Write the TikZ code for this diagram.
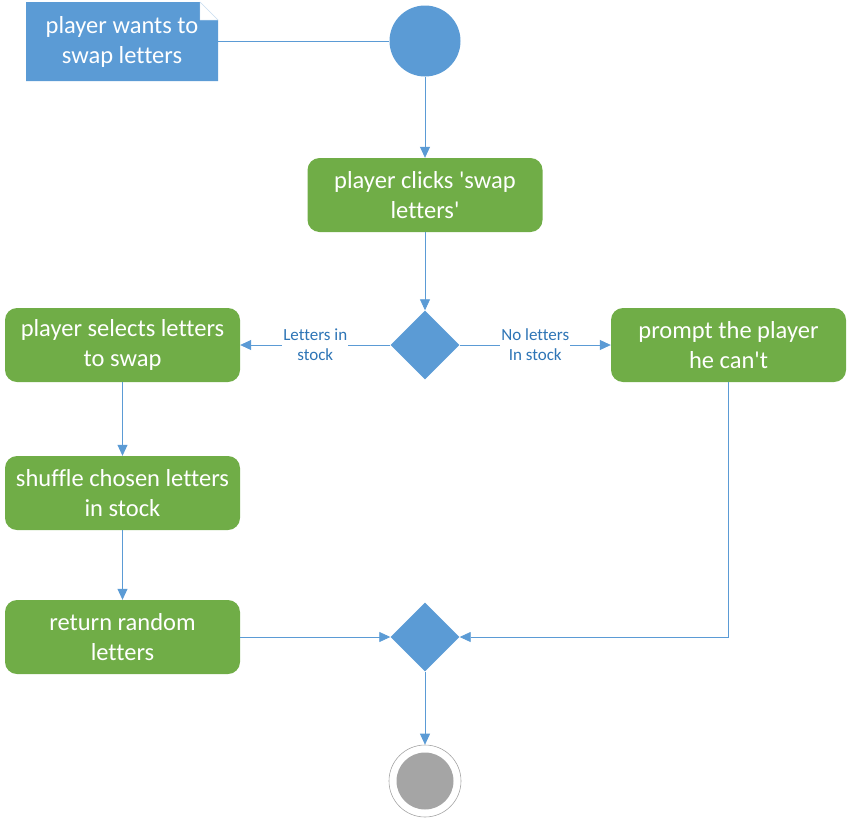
\documentclass[tikz,border=0pt]{standalone}
\usepackage{fontspec}
\setmainfont{Carlito}[Ligatures={TeX,CommonOff}]
\usetikzlibrary{arrows.meta,shapes.geometric}
\definecolor{ublue}{HTML}{5B9BD5}
\definecolor{ugreen}{HTML}{70AD47}
\definecolor{ulabel}{HTML}{2E75B6}
\definecolor{ugray}{HTML}{A5A5A5}
\tikzset{
  act/.style={rounded corners=12pt, fill=ugreen, draw=none, minimum width=235pt, minimum height=74pt,
    text=white, font=\fontsize{24.5}{30}\selectfont, align=center, inner sep=0pt},
  dec/.style={diamond, fill=ublue, draw=none, minimum width=69pt, minimum height=69pt, inner sep=0pt},
  conn/.style={draw=ublue, line width=0.8pt},
  arr/.style={conn, -{Triangle[length=11pt,width=10pt]}},
  lbl/.style={fill=white, text=ulabel, font=\fontsize{17}{20}\selectfont, align=center, inner sep=1pt}
}
\begin{document}
\begin{tikzpicture}[x=1pt,y=-1pt]
\useasboundingbox (0,0) rectangle (848,819);
% note
\fill[ublue] (26,2) -- (200,2) -- (218,20) -- (218,81) -- (26,81) -- cycle;
\draw[fill=white, draw=ublue!30, line width=0.4pt] (200,2) -- (218,20) -- (200,20) -- cycle;
\node[text=white, font=\fontsize{24.5}{30}\selectfont, align=center] (note) at (122,42) {player wants to\\swap letters};
\coordinate (noteR) at (218,41);
% start
\node[circle, fill=ublue, minimum size=71pt, inner sep=0pt] (start) at (425,41) {};
% activities
\node[act] (click) at (425,195) {player clicks \textquotesingle swap\\letters\textquotesingle};
\node[dec] (d1) at (425,345) {};
\node[act] (select) at (122.5,345) {player selects letters\\to swap};
\node[act] (prompt) at (728.5,345) {prompt the player\\he can\textquotesingle t};
\node[act] (shuffle) at (122.5,493) {shuffle chosen letters\\in stock};
\node[act] (ret) at (122.5,637) {return random\\letters};
\node[dec] (d2) at (425,637) {};
% end
\node[circle, draw=ugray, line width=0.6pt, minimum size=72pt, inner sep=0pt] (end) at (425,781) {};
\fill[ugray] (end.center) circle (28.5pt);
% connectors
\draw[conn] (noteR) -- (start.west);
\draw[arr] (start.south) -- (click.north);
\draw[arr] (click.south) -- (d1.north);
\draw[arr] (d1.west) -- node[lbl] {Letters in\\stock} (select.east);
\draw[arr] (d1.east) -- node[lbl] {No letters\\In stock} (prompt.west);
\draw[arr] (select.south) -- (shuffle.north);
\draw[arr] (shuffle.south) -- (ret.north);
\draw[arr] (ret.east) -- (d2.west);
\draw[arr] (prompt.south) |- (d2.east);
\draw[arr] (d2.south) -- (end.north);
\end{tikzpicture}
\end{document}
